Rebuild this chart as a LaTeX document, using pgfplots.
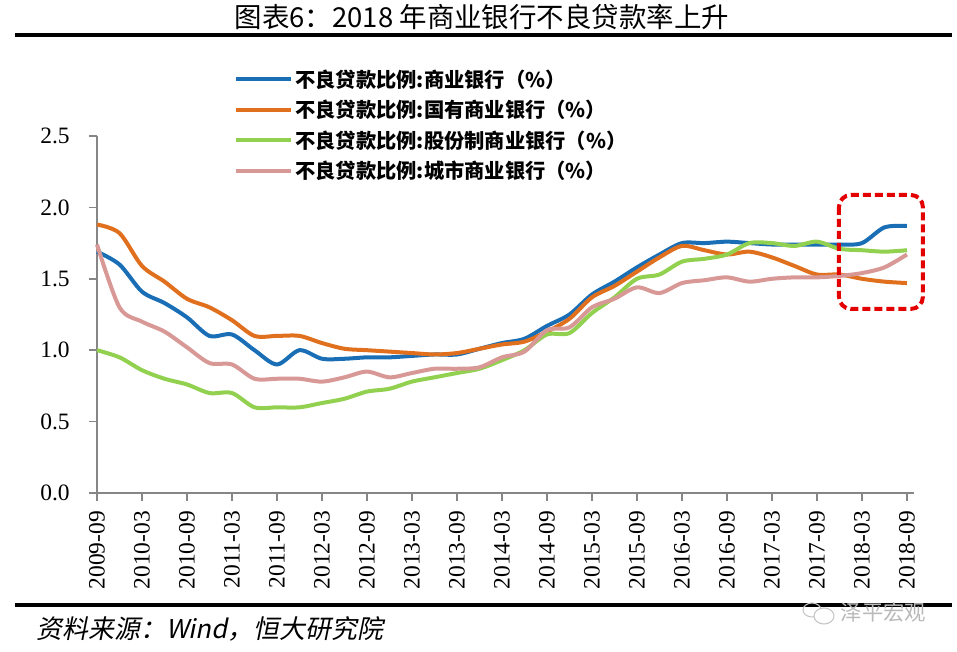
\documentclass[border=0pt]{standalone}
\usepackage{pgfplots}
\pgfplotsset{compat=1.18}
\usepackage{pgfplotstable}
\usepackage{fontspec}
\setmainfont{Liberation Serif}
\newfontfamily\cjk{Noto Sans CJK SC}
\newfontfamily\cjksl[FakeSlant=0.2]{Noto Sans CJK SC}

\definecolor{cbblue}{RGB}{25,110,182}
\definecolor{soeorange}{RGB}{224,112,30}
\definecolor{jsbgreen}{RGB}{146,208,80}
\definecolor{citypink}{RGB}{216,152,150}
\definecolor{axgray}{RGB}{134,134,134}
\definecolor{boxred}{RGB}{226,0,0}

% quarter index: 0 = 2009-09 ... 36 = 2018-09
\pgfplotstableread{
q  cb   soe  jsb  city
0  1.69 1.88 1.00 1.74
1  1.60 1.82 0.95 1.30
2  1.41 1.59 0.86 1.20
3  1.33 1.48 0.80 1.13
4  1.23 1.36 0.76 1.02
5  1.10 1.30 0.70 0.91
6  1.11 1.21 0.70 0.90
7  1.00 1.10 0.60 0.80
8  0.90 1.10 0.60 0.80
9  1.00 1.10 0.60 0.80
10 0.94 1.05 0.63 0.78
11 0.94 1.01 0.66 0.81
12 0.95 1.00 0.71 0.85
13 0.95 0.99 0.73 0.81
14 0.96 0.98 0.78 0.84
15 0.97 0.97 0.81 0.87
16 0.97 0.98 0.84 0.87
17 1.01 1.01 0.87 0.88
18 1.05 1.04 0.93 0.95
19 1.08 1.06 1.00 0.99
20 1.17 1.13 1.11 1.14
21 1.25 1.22 1.12 1.16
22 1.39 1.37 1.26 1.30
23 1.48 1.45 1.37 1.36
24 1.58 1.55 1.50 1.44
25 1.67 1.65 1.53 1.40
26 1.75 1.73 1.62 1.47
27 1.75 1.70 1.64 1.49
28 1.76 1.67 1.67 1.51
29 1.75 1.69 1.75 1.48
30 1.74 1.65 1.75 1.50
31 1.74 1.59 1.73 1.51
32 1.74 1.53 1.76 1.51
33 1.74 1.53 1.71 1.52
34 1.75 1.50 1.70 1.54
35 1.86 1.48 1.69 1.58
36 1.87 1.47 1.70 1.67
}\nplrates

\begin{document}
\begin{tikzpicture}[x=0.75pt,y=0.75pt]
  \useasboundingbox (0,0) rectangle (957,652);

  % title and rules
  \node[font=\cjk\fontsize{20.6}{24}\selectfont] at (482,635) {图表6：2018 年商业银行不良贷款率上升};
  \draw[line width=3pt] (15,617) -- (952,617);
  \draw[line width=3pt] (15,47) -- (952,47);
  \node[anchor=west, font=\cjksl\fontsize{19.4}{22}\selectfont] at (32,23) {资料来源：Wind，恒大研究院};

  % watermark
  \draw[gray!45, line width=0.8pt] (812,42) ellipse (9 and 7);
  \draw[gray!45, line width=0.8pt, fill=white] (824,36) ellipse (10 and 8);
  \node[anchor=west, text=gray!55, font=\cjk\fontsize{16}{18}\selectfont] at (836,40) {泽平宏观};

  \begin{axis}[
    at={(72.75pt,119.25pt)}, anchor=south west,
    scale only axis, width=612.5pt, height=267.75pt,
    xmin=0, xmax=36.3, ymin=0, ymax=2.5,
    clip=false,
    axis x line*=bottom, axis y line*=left,
    axis line style={axgray, line width=1.5pt},
    tick style={axgray, line width=1.2pt},
    tick align=outside, major tick length=6pt,
    xtick={0,2,...,36},
    xticklabels={2009-09,2010-03,2010-09,2011-03,2011-09,2012-03,2012-09,2013-03,2013-09,2014-03,2014-09,2015-03,2015-09,2016-03,2016-09,2017-03,2017-09,2018-03,2018-09},
    xticklabel style={rotate=90, anchor=east, font=\fontsize{17.6}{20}\selectfont, xshift=-4pt},
    ytick={0,0.5,...,2.5},
    yticklabel style={font=\fontsize{17.6}{20}\selectfont, xshift=-11pt, /pgf/number format/.cd, fixed, fixed zerofill, precision=1, assume math mode=true},
    /pgf/number format/assume math mode=true,
    legend cell align=left,
    legend style={draw=none, fill=none, at={(rel axis cs:0.1675,1.194)}, anchor=north west,
      font=\cjk\bfseries\fontsize{15.2}{17}\selectfont, row sep=4.2pt, inner sep=0pt},
    legend image code/.code={\draw[#1, line width=3pt] (0pt,0pt) -- (41pt,0pt);},
    every axis plot/.append style={line width=3pt, smooth, tension=0.5},
  ]
    \addplot[cbblue] table[x=q, y=cb] {\nplrates};
    \addlegendentry{不良贷款比例:商业银行（\%）}
    \addplot[soeorange] table[x=q, y=soe] {\nplrates};
    \addlegendentry{不良贷款比例:国有商业银行（\%）}
    \addplot[jsbgreen] table[x=q, y=jsb] {\nplrates};
    \addlegendentry{不良贷款比例:股份制商业银行（\%）}
    \addplot[citypink] table[x=q, y=city] {\nplrates};
    \addlegendentry{不良贷款比例:城市商业银行（\%）}

    \draw[boxred, line width=3pt, dash pattern=on 6pt off 3pt, rounded corners=9pt]
      (axis cs:32.98,2.087) rectangle (axis cs:36.71,1.289);
  \end{axis}
\end{tikzpicture}
\end{document}
